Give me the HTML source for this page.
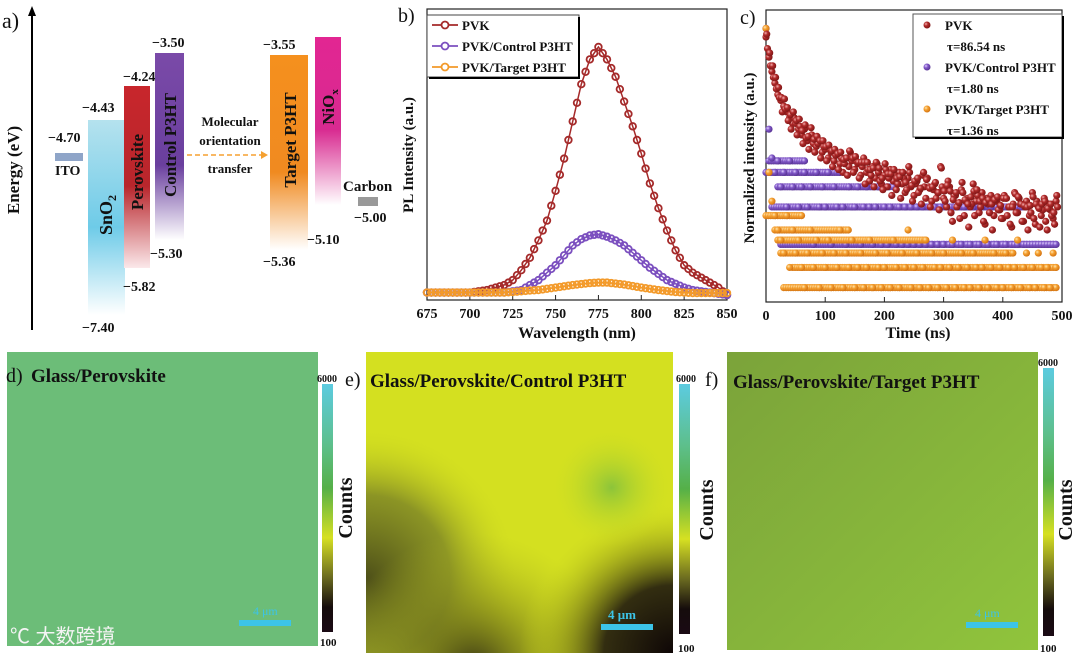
<!DOCTYPE html>
<html><head><meta charset="utf-8"><style>
html,body{margin:0;padding:0;background:#fff;width:1080px;height:660px;overflow:hidden}
svg{display:block}
text{font-family:"Liberation Serif","Noto Serif CJK SC",serif;font-weight:bold;fill:#111}
</style></head><body>
<svg id="fig" width="1080" height="660" viewBox="0 0 1080 660" xmlns="http://www.w3.org/2000/svg">
<defs>
<linearGradient id="gSn" x1="0" y1="0" x2="0" y2="1"><stop offset="0" stop-color="#b5e2ee"/><stop offset="0.55" stop-color="#6ecbe8"/><stop offset="1" stop-color="#ffffff"/></linearGradient>
<linearGradient id="gPe" x1="0" y1="0" x2="0" y2="1"><stop offset="0" stop-color="#c8262c"/><stop offset="0.55" stop-color="#b8262c"/><stop offset="1" stop-color="#fbe8ea"/></linearGradient>
<linearGradient id="gCo" x1="0" y1="0" x2="0" y2="1"><stop offset="0" stop-color="#7a4aa8"/><stop offset="0.6" stop-color="#6a3f9e"/><stop offset="1" stop-color="#ffffff"/></linearGradient>
<linearGradient id="gTa" x1="0" y1="0" x2="0" y2="1"><stop offset="0" stop-color="#f5901e"/><stop offset="0.6" stop-color="#f08a20"/><stop offset="1" stop-color="#ffffff"/></linearGradient>
<linearGradient id="gNi" x1="0" y1="0" x2="0" y2="1"><stop offset="0" stop-color="#e22692"/><stop offset="0.55" stop-color="#d82a90"/><stop offset="1" stop-color="#ffffff"/></linearGradient>
<linearGradient id="gCb" x1="0" y1="0" x2="0" y2="1"><stop offset="0" stop-color="#5ccbe0"/><stop offset="0.25" stop-color="#5dbf8a"/><stop offset="0.42" stop-color="#55b048"/><stop offset="0.62" stop-color="#d6e022"/><stop offset="0.78" stop-color="#6a6a20"/><stop offset="0.9" stop-color="#150c0c"/><stop offset="1" stop-color="#1a0a14"/></linearGradient>
<radialGradient id="sR" cx="0.35" cy="0.35" r="0.7"><stop offset="0" stop-color="#f5b0b0"/><stop offset="0.4" stop-color="#b02a2a"/><stop offset="1" stop-color="#7a1414"/></radialGradient>
<radialGradient id="sP" cx="0.35" cy="0.35" r="0.7"><stop offset="0" stop-color="#e0d0ff"/><stop offset="0.4" stop-color="#8158c8"/><stop offset="1" stop-color="#553090"/></radialGradient>
<radialGradient id="sO" cx="0.35" cy="0.35" r="0.7"><stop offset="0" stop-color="#ffe6b0"/><stop offset="0.4" stop-color="#f5a030"/><stop offset="1" stop-color="#d07010"/></radialGradient>
<linearGradient id="gF" x1="0" y1="0" x2="1" y2="1"><stop offset="0" stop-color="#7ba33a"/><stop offset="1" stop-color="#90c43c"/></linearGradient>
<radialGradient id="eDark1" cx="0" cy="0.75" r="0.5"><stop offset="0" stop-color="#4e5018"/><stop offset="0.55" stop-color="#7a8226" stop-opacity="0.8"/><stop offset="1" stop-color="#d4e020" stop-opacity="0"/></radialGradient>
<radialGradient id="eDark2" cx="1" cy="1" r="0.5"><stop offset="0" stop-color="#0e0606"/><stop offset="0.45" stop-color="#2a2410" stop-opacity="0.95"/><stop offset="1" stop-color="#d4e020" stop-opacity="0"/></radialGradient>
<radialGradient id="eDark3" cx="0.35" cy="1.05" r="0.45"><stop offset="0" stop-color="#3a3814"/><stop offset="1" stop-color="#b0b820" stop-opacity="0"/></radialGradient>
<radialGradient id="eGreen" cx="0.8" cy="0.45" r="0.2"><stop offset="0" stop-color="#8cc43a"/><stop offset="1" stop-color="#d4e020" stop-opacity="0"/></radialGradient>
</defs>

<!-- Panel a -->
<g>
<text x="2" y="28" font-size="22" style="font-weight:normal">a)</text>
<line x1="32" y1="330" x2="32" y2="14" stroke="#000" stroke-width="2"/>
<polygon points="32,6 28,16 36,16" fill="#000"/>
<text transform="translate(19,170) rotate(-90)" text-anchor="middle" font-size="17">Energy (eV)</text>
<rect x="55" y="153" width="28" height="8" fill="#8fa5c8"/>
<text x="48" y="142" font-size="14">−4.70</text>
<text x="55" y="175" font-size="14" fill="#333">ITO</text>
<rect x="88" y="120" width="37" height="195" fill="url(#gSn)"/>
<text x="82" y="112" font-size="14">−4.43</text>
<text x="82" y="332" font-size="14">−7.40</text>
<text transform="translate(112,215) rotate(-90)" text-anchor="middle" font-size="18">SnO<tspan font-size="12" dy="4">2</tspan></text>
<rect x="124" y="86" width="26" height="182" fill="url(#gPe)"/>
<text x="123" y="81" font-size="14">−4.24</text>
<text x="123" y="291" font-size="14">−5.82</text>
<text transform="translate(143,172) rotate(-90)" text-anchor="middle" font-size="17">Perovskite</text>
<rect x="155" y="53" width="29" height="187" fill="url(#gCo)"/>
<text x="152" y="47" font-size="14">−3.50</text>
<text x="150" y="258" font-size="14">−5.30</text>
<text transform="translate(176,145) rotate(-90)" text-anchor="middle" font-size="17">Control P3HT</text>
<text x="230" y="126" text-anchor="middle" font-size="13">Molecular</text>
<text x="230" y="145" text-anchor="middle" font-size="13">orientation</text>
<text x="230" y="173" text-anchor="middle" font-size="13">transfer</text>
<line x1="187" y1="155" x2="262" y2="155" stroke="#f5a030" stroke-width="1.5" stroke-dasharray="5,3"/>
<polygon points="268,155 261,151 261,159" fill="#f5a030"/>
<rect x="270" y="55" width="38" height="195" fill="url(#gTa)"/>
<text x="263" y="49" font-size="14">−3.55</text>
<text x="263" y="266" font-size="14">−5.36</text>
<text transform="translate(296,140) rotate(-90)" text-anchor="middle" font-size="17">Target P3HT</text>
<rect x="315" y="37" width="26" height="168" fill="url(#gNi)"/>
<text x="307" y="244" font-size="14">−5.10</text>
<text transform="translate(334,107) rotate(-90)" text-anchor="middle" font-size="17">NiO<tspan font-size="11" dy="4">x</tspan></text>
<rect x="358" y="197" width="20" height="9" fill="#999"/>
<text x="343" y="191" font-size="15">Carbon</text>
<text x="354" y="222" font-size="14">−5.00</text>
</g>

<!-- Panel b -->
<g id="pb">
<text x="398" y="22" font-size="20" style="font-weight:normal">b)</text>
<rect x="427" y="9" width="300" height="291" fill="none" stroke="#222" stroke-width="1.2"/>
<text transform="translate(413,155) rotate(-90)" text-anchor="middle" font-size="15">PL Intensity (a.u.)</text>
<text x="577" y="338" text-anchor="middle" font-size="16">Wavelength (nm)</text>
<g id="pbTicks"></g><g id="pbSeries"></g>
<rect x="427" y="15" width="152" height="62" fill="#fff" stroke="#444"/>
<line x1="579" y1="17" x2="579" y2="79" stroke="#000" stroke-width="2"/><line x1="429" y1="78" x2="580" y2="78" stroke="#000" stroke-width="2"/>
<g id="pbLegend"></g>
</g>

<!-- Panel c -->
<g id="pc">
<text x="740" y="24" font-size="20" style="font-weight:normal">c)</text>
<rect x="766" y="10" width="296" height="292" fill="none" stroke="#222" stroke-width="1.2"/>
<text transform="translate(754,158) rotate(-90)" text-anchor="middle" font-size="15">Normalized intensity (a.u.)</text>
<text x="918" y="338" text-anchor="middle" font-size="16">Time (ns)</text>
<g id="pcTicks"></g><g id="pcSeries"></g>
<rect x="913" y="14" width="149" height="123" fill="#fff" stroke="#555"/>
<line x1="1063" y1="16" x2="1063" y2="139" stroke="#000" stroke-width="2"/><line x1="915" y1="138" x2="1063" y2="138" stroke="#000" stroke-width="2"/>
<g id="pcLegend"></g>
</g>

<!-- Panel d -->
<g>
<rect x="7" y="352" width="311" height="294" fill="#6cbd78"/>
<text x="6" y="382" font-size="20" style="font-weight:normal">d)</text>
<text x="31" y="382" font-size="19">Glass/Perovskite</text>
<rect x="239" y="620" width="52" height="6" fill="#3cc4e8"/>
<text x="253" y="615" font-size="12" style="fill:#3cc4e8;font-weight:normal">4 μm</text>
<text x="10" y="643" font-size="20" style="fill:#f4f4f4;font-weight:normal;font-family:'Liberation Sans','Noto Sans CJK SC',sans-serif">℃ 大数跨境</text>
<rect x="322" y="384" width="11" height="248" fill="url(#gCb)"/>
<text x="317" y="382" font-size="10">6000</text>
<text x="320" y="646" font-size="11">100</text>
<text transform="translate(352,508) rotate(-90)" text-anchor="middle" font-size="20">Counts</text>
</g>

<!-- Panel e -->
<g>
<rect x="366" y="352" width="307" height="301" fill="#d4e020"/>
<rect x="366" y="352" width="307" height="301" fill="url(#eDark1)"/>
<rect x="366" y="352" width="307" height="301" fill="url(#eDark3)"/>
<rect x="366" y="352" width="307" height="301" fill="url(#eDark2)"/>
<rect x="366" y="352" width="307" height="301" fill="url(#eGreen)"/>
<text x="345" y="386" font-size="20" style="font-weight:normal">e)</text>
<text x="370" y="387" font-size="19">Glass/Perovskite/Control P3HT</text>
<rect x="601" y="624" width="52" height="6" fill="#3cc4e8"/>
<text x="608" y="619" font-size="13" style="fill:#3cc4e8">4 μm</text>
<rect x="679" y="384" width="11" height="250" fill="url(#gCb)"/>
<text x="676" y="382" font-size="10">6000</text>
<text x="678" y="652" font-size="11">100</text>
<text transform="translate(713,510) rotate(-90)" text-anchor="middle" font-size="20">Counts</text>
</g>

<!-- Panel f -->
<g>
<rect x="727" y="352" width="311" height="298" fill="url(#gF)"/>
<text x="705" y="386" font-size="20" style="font-weight:normal">f)</text>
<text x="733" y="388" font-size="19">Glass/Perovskite/Target P3HT</text>
<rect x="966" y="622" width="52" height="6" fill="#3cc4e8"/>
<text x="975" y="617" font-size="12" style="fill:#3cc4e8;font-weight:normal">4 μm</text>
<rect x="1043" y="368" width="11" height="268" fill="url(#gCb)"/>
<text x="1038" y="366" font-size="10">6000</text>
<text x="1040" y="652" font-size="11">100</text>
<text transform="translate(1072,510) rotate(-90)" text-anchor="middle" font-size="20">Counts</text>
</g>
</svg>
<script>
// ---- Panel b data ----
const plWavelengths = [675,680,685,690,695,700,705,710,715,720,725,730,735,740,745,750,755,760,765,770,775,780,785,790,795,800,805,810,815,820,825,830,835,840,845,850];
const plPVK = [0.01,0.01,0.01,0.01,0.01,0.01,0.015,0.02,0.03,0.04,0.06,0.1,0.15,0.22,0.3,0.42,0.55,0.7,0.85,0.95,1.0,0.95,0.88,0.78,0.68,0.57,0.45,0.35,0.26,0.18,0.12,0.09,0.07,0.05,0.03,0.0];
const plControl = [0.01,0.01,0.01,0.01,0.01,0.01,0.01,0.01,0.01,0.01,0.015,0.02,0.04,0.06,0.09,0.12,0.16,0.2,0.225,0.24,0.245,0.235,0.22,0.2,0.17,0.14,0.11,0.085,0.06,0.045,0.03,0.02,0.015,0.01,0.005,0.0];
const plTarget = [0.01,0.01,0.01,0.01,0.01,0.01,0.01,0.01,0.01,0.01,0.012,0.015,0.018,0.02,0.025,0.03,0.035,0.04,0.044,0.048,0.05,0.05,0.046,0.042,0.036,0.03,0.025,0.02,0.016,0.012,0.01,0.008,0.008,0.008,0.008,0.008];
const plTicks = [675,700,725,750,775,800,825,850];
const plNames = ["PVK","PVK/Control P3HT","PVK/Target P3HT"];
// ---- Panel c data ----
const trTimes = [];
for (let i = 0; i < 99; i++) trTimes.push(i * 5);
const trPVK = [.92,.85,.8,.76,.72,.7,.68,.66,.64,.62,.62,.6,.58,.6,.56,.57,.55,.54,.56,.52,.53,.5,.52,.49,.51,.48,.45,.5,.47,.49,.46,.48,.44,.5,.45,.42,.47,.43,.45,.41,.44,.4,.46,.42,.39,.45,.41,.38,.43,.4,.37,.42,.39,.44,.36,.4,.35,.41,.38,.47,.36,.33,.4,.28,.37,.34,.39,.3,.36,.33,.41,.35,.31,.38,.27,.34,.37,.3,.35,.32,.29,.36,.33,.26,.38,.31,.34,.28,.35,.3,.38,.27,.33,.3,.36,.25,.32,.29,.35];
const trPVK2 = [.88,.82,.78,.74,.71,.66,.67,.63,.6,.64,.58,.61,.55,.57,.53,.58,.52,.55,.5,.54,.49,.53,.47,.51,.46,.5,.48,.44,.52,.45,.49,.43,.47,.41,.46,.44,.4,.48,.42,.39,.46,.43,.37,.44,.41,.36,.43,.39,.45,.35,.41,.38,.34,.4,.43,.33,.39,.36,.32,.4,.35,.42,.31,.37,.33,.29,.38,.35,.26,.34,.3,.37,.33,.28,.36,.31,.25,.35,.32,.29,.37,.3,.27,.34,.31,.36,.28,.33,.25,.31,.29,.35,.26,.32,.28,.34,.3,.27,.33];
const trControl = [.95,.6,.5,.45,.49,.4,.45,.33,.49,.4,.45,.33,.4,.45,.33,.4,.2,.45,.33,.4,.33,.45,.2,.4,.33,.45,.33,.2,.4,.33,.33,.4,.2,.33,.4,.33,.2,.33,.4,.2,.33,.2,.33,.4,.2,.33,.2,.33,.2,.33,.2,.33,.2,.33,.2,.33,.2,.33,.2,.33,.2,.33,.2,.2,.33,.2,.2,.33,.2,.2,.33,.2,.2,.33,.2,.2,.33,.2,.2,.33,.2,.2,.33,.2,.2,.2,.33,.2,.2,.2,.2,.2,.2,.2,.2,.2,.2,.2,.2];
const trTarget = [.95,.45,.35,.3,.25,.215,.17,.3,.12,.25,.17,.215,.12,.05,.17,.25,.12,.215,.05,.17,.12,.215,.05,.17,.12,.25,.05,.17,.12,.215,.05,.12,.17,.05,.12,.215,.05,.17,.12,.05,.12,.17,.05,.215,.12,.05,.17,.12,.25,.05,.12,.17,.05,.12,.215,.05,.17,.12,.05,.12,.17,.05,.12,.215,.05,.12,.17,.05,.12,.05,.17,.12,.05,.12,.215,.05,.12,.17,.05,.12,.05,.17,.12,.05,.12,.215,.05,.12,.17,.05,.12,.05,.17,.12,.05,.12,.05,.17,.12];
// quantized count rows: level, start time, end time
const trControlRowLevels = [.49,.45,.40,.33,.20];
const trControlRowStart = [5,0,20,10,25];
const trControlRowEnd = [65,125,210,440,490];
const trTargetRowLevels = [.30,.25,.215,.17,.12,.05];
const trTargetRowStart = [0,15,20,25,45,30];
const trTargetRowEnd = [60,140,270,420,490,490];
const trTicks = [0,100,200,300,400,500];
const trNames = ["PVK","PVK/Control P3HT","PVK/Target P3HT"];
const trTaus = ["τ=86.54 ns","τ=1.80 ns","τ=1.36 ns"];

const NS = "http://www.w3.org/2000/svg";
function mk(tag, attrs, parent){const e=document.createElementNS(NS,tag);for(const k in attrs)e.setAttribute(k,attrs[k]);parent.appendChild(e);return e;}

// axes b
const bx = w => 427 + (w - 675) / 175 * 300;
const by = v => 295 - v * 248;
const pbT = document.getElementById('pbTicks');
plTicks.forEach(t => {
  const l = mk('line',{x1:bx(t),x2:bx(t),y1:300,y2:295,stroke:'#222'},pbT);
  
  
  const tx = mk('text',{x:bx(t),y:318,'text-anchor':'middle','font-size':14},pbT);
  tx.textContent = t;
  
  
});
const pbS = document.getElementById('pbSeries');
const bCols = ['#a52a2a','#7b4fbf','#f39a2a'];
const bFills = ['url(#sR)','url(#sP)','url(#sO)'];
[plPVK, plControl, plTarget].forEach((ser, si) => {
  const g = mk('g',{},pbS);
  
  
  const pts = ser.map((v,i) => bx(plWavelengths[i]) + ',' + by(v)).join(' ');
  mk('polyline',{points:pts,fill:'none',stroke:bCols[si],'stroke-width':1.5},g);
  ser.forEach((v,i) => {
    const c = mk('circle',{cx:bx(plWavelengths[i]),cy:by(v),r:3.3,fill:'none',stroke:bCols[si],'stroke-width':1.8},g);
    
    
    if (i < ser.length - 1) {
      const c2 = mk('circle',{cx:bx((plWavelengths[i]+plWavelengths[i+1])/2),cy:by((v+ser[i+1])/2),r:3.3,fill:'none',stroke:bCols[si],'stroke-width':1.8},g);
      
      
    }
  });
});
const pbL = document.getElementById('pbLegend');
plNames.forEach((n, i) => {
  const y = 25 + i * 21;
  mk('line',{x1:432,x2:458,y1:y,y2:y,stroke:bCols[i],'stroke-width':1.8},pbL);
  mk('circle',{cx:445,cy:y,r:3.5,fill:'#fff',stroke:bCols[i],'stroke-width':1.8},pbL);
  const t = mk('text',{x:462,y:y+5,'font-size':13},pbL);
  t.textContent = n;
  
  
});

// axes c
const cx = t => 766 + t / 500 * 296;
const cy = v => 302 - v * 288;
const pcT = document.getElementById('pcTicks');
trTicks.forEach(t => {
  const l = mk('line',{x1:cx(t),x2:cx(t),y1:302,y2:297,stroke:'#222'},pcT);
  
  
  const tx = mk('text',{x:cx(t),y:320,'text-anchor':'middle','font-size':14},pcT);
  tx.textContent = t;
  
  
});
const pcS = document.getElementById('pcSeries');
function dot(t, v, fill, g){
  const c = mk('circle',{cx:cx(t),cy:cy(v),r:3.6,fill:fill},g);
  
  
}
function rows(levels, starts, ends, fill, g){
  levels.forEach((lv, k) => {
    for (let t = starts[k]; t <= ends[k]; t += 4) dot(t, lv, fill, g);
  });
}
const gC = mk('g',{},pcS);


rows(trControlRowLevels, trControlRowStart, trControlRowEnd, bFills[1], gC);
trControl.forEach((v,i) => dot(trTimes[i], v, bFills[1], gC));
const gT = mk('g',{},pcS);


rows(trTargetRowLevels, trTargetRowStart, trTargetRowEnd, bFills[2], gT);
trTarget.forEach((v,i) => dot(trTimes[i], v, bFills[2], gT));
const gR = mk('g',{},pcS);


trPVK.forEach((v,i) => dot(trTimes[i], v, bFills[0], gR));
trPVK2.forEach((v,i) => dot(trTimes[i] + 2.5, v, bFills[0], gR));
trPVK2.forEach((v,i) => dot(trTimes[i] + 1.2, (v + trPVK[i]) / 2 + 0.03, bFills[0], gR));
const pcL = document.getElementById('pcLegend');
trNames.forEach((n, i) => {
  const y = 25 + i * 42;
  mk('circle',{cx:927,cy:y,r:3.5,fill:bFills[i]},pcL);
  const t = mk('text',{x:945,y:y+5,'font-size':13},pcL);
  t.textContent = n;
  
  
  const t2 = mk('text',{x:947,y:y+26,'font-size':13},pcL);
  t2.textContent = trTaus[i];
  
  
});
</script>
</body></html>
